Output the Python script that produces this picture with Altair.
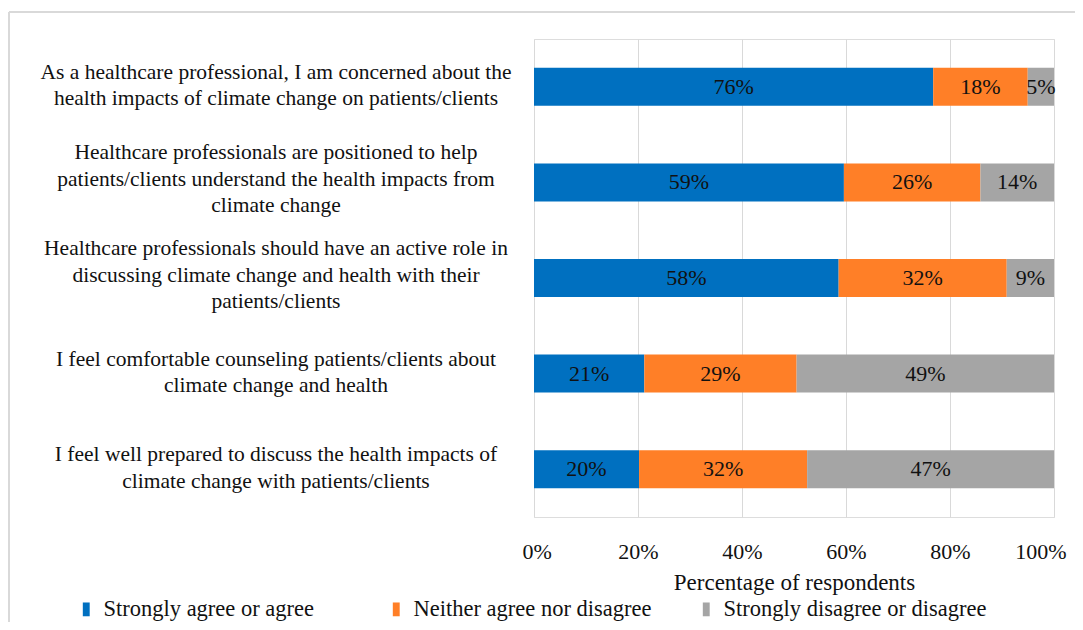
import altair as alt
import pandas as pd

questions = [
    "As a healthcare professional, I am concerned about the\nhealth impacts of climate change on patients/clients",
    "Healthcare professionals are positioned to help\npatients/clients understand the health impacts from\nclimate change",
    "Healthcare professionals should have an active role in\ndiscussing climate change and health with their\npatients/clients",
    "I feel comfortable counseling patients/clients about\nclimate change and health",
    "I feel well prepared to discuss the health impacts of\nclimate change with patients/clients",
]
categories = ["Strongly agree or agree", "Neither agree nor disagree", "Strongly disagree or disagree"]
colors = ["#0070c0", "#ff7f27", "#a5a5a5"]
agree = [76, 59, 58, 21, 20]
neither = [18, 26, 32, 29, 32]
disagree = [5, 14, 9, 49, 47]
ticks = [0, 0.2, 0.4, 0.6, 0.8, 1.0]

rows = []
for i, q in enumerate(questions):
    for j, (cat, vals) in enumerate(zip(categories, [agree, neither, disagree])):
        rows.append({"q": q, "cat": cat, "order": j, "value": vals[i]})
df = pd.DataFrame(rows)
qdf = pd.DataFrame({"q": questions, "nlines": [q.count("\n") + 1 for q in questions]})

FONT = "Liberation Serif"
TXT = "#111111"

base = alt.Chart(df).transform_joinaggregate(
    total="sum(value)", groupby=["q"]
).transform_window(
    cum="sum(value)", sort=[{"field": "order"}], groupby=["q"], frame=[None, 0]
).transform_calculate(
    end="datum.cum / datum.total"
).transform_calculate(
    start="(datum.cum - datum.value) / datum.total"
).transform_calculate(
    mid="(datum.start + datum.end) / 2"
)

yenc = alt.Y("q:N", sort=questions, title=None,
             scale=alt.Scale(paddingInner=0.6, paddingOuter=0.3),
             axis=alt.Axis(labels=False, ticks=False, domain=False, grid=False))

bars = base.mark_bar(size=38).encode(
    x=alt.X("start:Q", title="Percentage of respondents",
            scale=alt.Scale(domain=[0, 1], nice=False),
            axis=alt.Axis(values=ticks, format=".0%", grid=True, gridColor="#d9d9d9",
                          domain=False, ticks=False, labelFontSize=22, labelFont=FONT,
                          labelColor=TXT, labelPadding=24, labelFlush=True,
                          labelFlushOffset=12,
                          titleFont=FONT, titleFontSize=23, titleFontWeight="normal",
                          titleColor=TXT, titlePadding=9)),
    x2="end:Q",
    y=yenc,
    color=alt.Color("cat:N", sort=categories,
                    scale=alt.Scale(domain=categories, range=colors),
                    legend=alt.Legend(title=None, orient="none", direction="horizontal",
                                      legendX=-459, legendY=559,
                                      labelFont=FONT, labelFontSize=22.5, labelColor=TXT,
                                      labelLimit=500, gridAlign="all",
                                      symbolType="M-0.5,-1H0.5V1H-0.5Z", symbolSize=190,
                                      symbolStrokeWidth=0, labelOffset=6, columnPadding=18)),
)

labels = base.mark_text(font=FONT, fontSize=22, color=TXT).encode(
    x=alt.X("mid:Q"),
    y=alt.Y("q:N", sort=questions),
    text=alt.Text("label:N"),
).transform_calculate(label="datum.value + '%'")

def qlayer(n, dy):
    return alt.Chart(qdf).transform_filter(f"datum.nlines == {n}").mark_text(
        font=FONT, fontSize=21.5, color=TXT, lineBreak="\n", lineHeight=26.5,
        align="center", baseline="middle", dy=dy
    ).encode(
        x=alt.value(-258),
        y=alt.Y("q:N", sort=questions),
        text="q:N",
    )

q2 = qlayer(2, -14)
q3 = qlayer(3, -29)

border_top = alt.Chart(qdf).mark_rule(color="#d9d9d9", strokeWidth=1.5).encode(
    x=alt.value(-525), x2=alt.value(560), y=alt.value(-27)
)
border_left = alt.Chart(qdf).mark_rule(color="#d9d9d9", strokeWidth=1.5).encode(
    x=alt.value(-525), y=alt.value(-27), y2=alt.value(600)
)

chart = alt.layer(border_top, border_left, bars, labels, q2, q3).properties(
    width=520, height=478,
    autosize=alt.AutoSizeParams(type="none"),
    padding={"left": 526, "top": 31, "right": 21, "bottom": 105},
).configure_view(stroke=None).configure(background="white")

chart.save("out.html", embed_options={"renderer": "svg", "actions": False})
